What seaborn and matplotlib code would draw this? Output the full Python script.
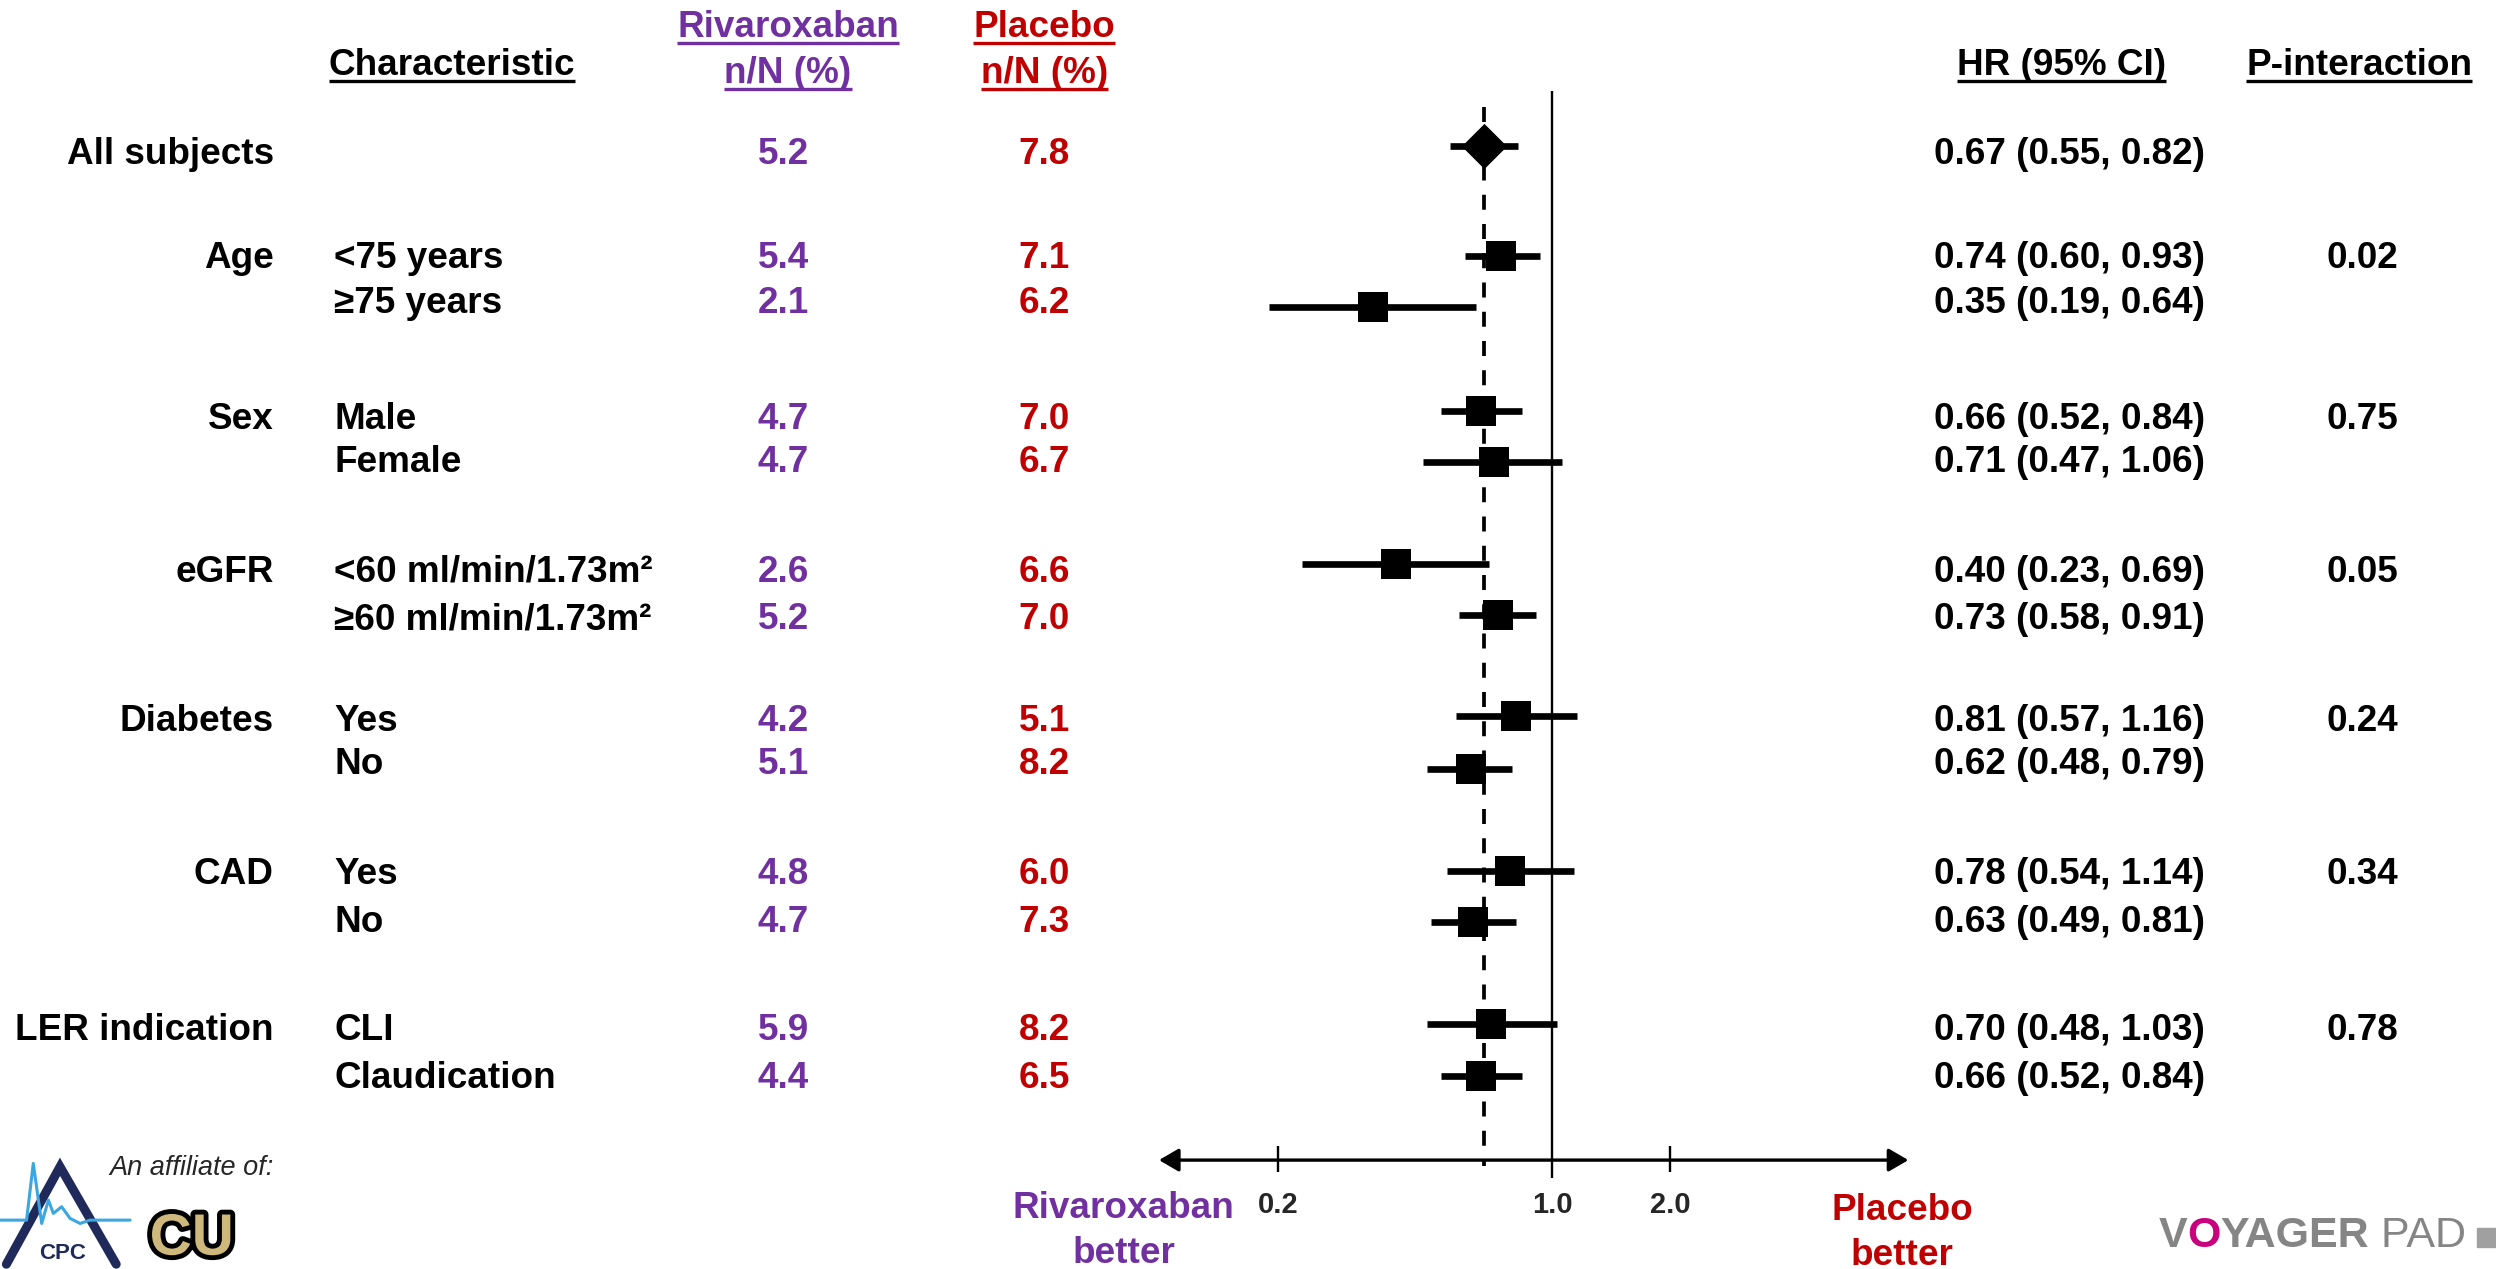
import numpy as np
import pandas as pd
import seaborn as sns
import matplotlib.pyplot as plt
import matplotlib.patheffects as pe

# values
groups = ['All subjects', 'Age', '', 'Sex', '', 'eGFR', '', 'Diabetes', '', 'CAD', '', 'LER indication', '']
subgroups = ['', '<75 years', '≥75 years', 'Male', 'Female',
             '<60 ml/min/1.73m²', '≥60 ml/min/1.73m²', 'Yes', 'No', 'Yes', 'No',
             'CLI', 'Claudication']
riva_pct = [5.2, 5.4, 2.1, 4.7, 4.7, 2.6, 5.2, 4.2, 5.1, 4.8, 4.7, 5.9, 4.4]
placebo_pct = [7.8, 7.1, 6.2, 7.0, 6.7, 6.6, 7.0, 5.1, 8.2, 6.0, 7.3, 8.2, 6.5]
hr = [0.67, 0.74, 0.35, 0.66, 0.71, 0.40, 0.73, 0.81, 0.62, 0.78, 0.63, 0.70, 0.66]
hr_lo = [0.55, 0.60, 0.19, 0.52, 0.47, 0.23, 0.58, 0.57, 0.48, 0.54, 0.49, 0.48, 0.52]
hr_hi = [0.82, 0.93, 0.64, 0.84, 1.06, 0.69, 0.91, 1.16, 0.79, 1.14, 0.81, 1.03, 0.84]
p_interaction = ['', '0.02', '', '0.75', '', '0.05', '', '0.24', '', '0.34', '', '0.78', '']
tick_vals = [0.2, 1.0, 2.0]
tick_labels = ['0.2', '1.0', '2.0']

# layout, in units of a 1568 x 797 slide
W, H = 1568, 797
text_y = [95, 160, 188, 261, 288, 357, 387, 451, 478, 547, 577, 645, 675]
mark_y = [92, 161, 193, 258, 290, 354, 386, 450, 483, 547, 579, 643, 676]
CAP = 8.3            # cap centre -> baseline
X_ONE, PX_LN = 975, 107   # where HR=1 sits, px per ln unit
AXIS_Y = 728.6
PURPLE, RED = '#7030A0', '#C00000'
FS = 26.6

sns.set_style('white')
plt.rcParams['font.family'] = ['Liberation Sans', 'DejaVu Sans']

fig = plt.figure(figsize=(24.96, 12.69), dpi=100)
deco = fig.add_axes([0, 0, 1, 1])
deco.set_xlim(0, W)
deco.set_ylim(H, 0)
deco.axis('off')

ax = fig.add_axes([0, 0, 1, 1])
ax.set_xscale('log')
ax.patch.set_alpha(0)

# forest plot
df = pd.DataFrame({'hr': hr, 'lo': hr_lo, 'hi': hr_hi, 'y': mark_y})
ax.hlines(df['y'], df['lo'], df['hi'], color='black', lw=4.8, zorder=3)
sns.scatterplot(data=df.iloc[1:], x='hr', y='y', marker='s', s=445,
                color='black', linewidth=0, legend=False, ax=ax, zorder=4)
sns.scatterplot(data=df.iloc[:1], x='hr', y='y', marker='D', s=530,
                color='black', linewidth=0, legend=False, ax=ax, zorder=4)
ax.vlines(hr[0], 67, 732, colors='black', lw=2.7, linestyles=(0, (4, 3.8)), zorder=2)
ax.vlines(1.0, 57, 740, colors='black', lw=1.7, zorder=2)
ax.vlines([v for v in tick_vals if v != 1.0], 720, 736, colors='black', lw=1.7)
ax.annotate('', xy=(0.0995, AXIS_Y), xytext=(8.1, AXIS_Y),
            arrowprops=dict(arrowstyle='<|-|>,head_length=0.6,head_width=0.35',
                            lw=2.4, color='black', shrinkA=0, shrinkB=0,
                            mutation_scale=20))
for v, lab in zip(tick_vals, tick_labels):
    ax.text(v, 762, lab, ha='center', va='baseline', fontsize=21, fontweight='bold')

ax.set_xlim(np.exp(-X_ONE / PX_LN), np.exp((W - X_ONE) / PX_LN))
ax.set_ylim(H, 0)
ax.axis('off')


def put(x, y, s, color='black', ha='center', size=FS, **kw):
    return deco.text(x, y + CAP, s, ha=ha, va='baseline', color=color,
                     fontsize=size, fontweight='bold', **kw)


# headers
headers = [
    put(284, 39, 'Characteristic'),
    put(495, 15, 'Rivaroxaban', PURPLE),
    put(495, 44, 'n/N (%)', PURPLE),
    put(656, 15, 'Placebo', RED),
    put(656, 44, 'n/N (%)', RED),
    put(1295, 39, 'HR (95% CI)'),
    put(1482, 39, 'P-interaction'),
]

# table rows
for i in range(len(hr)):
    y = text_y[i]
    if groups[i]:
        put(172, y, groups[i], ha='right')
    if subgroups[i]:
        put(210, y, subgroups[i], ha='left')
    put(492, y, f'{riva_pct[i]:.1f}', PURPLE)
    put(656, y, f'{placebo_pct[i]:.1f}', RED)
    put(1300, y, f'{hr[i]:.2f} ({hr_lo[i]:.2f}, {hr_hi[i]:.2f})')
    if p_interaction[i]:
        put(1484, y, p_interaction[i])

# favours labels
deco.text(706, 765, 'Rivaroxaban', ha='center', va='baseline', color=PURPLE, fontsize=FS, fontweight='bold')
deco.text(706, 793.5, 'better', ha='center', va='baseline', color=PURPLE, fontsize=FS, fontweight='bold')
deco.text(1195, 766, 'Placebo', ha='center', va='baseline', color=RED, fontsize=FS, fontweight='bold')
deco.text(1195, 794.5, 'better', ha='center', va='baseline', color=RED, fontsize=FS, fontweight='bold')

# logos (rough)
deco.plot([4, 37.7, 73], [794, 732.8, 794], color='#1F2A5A', lw=6.5, solid_joinstyle='miter')
ecg_x = [0, 16.7, 20.9, 26.2, 30.4, 33.5, 38.7, 44, 50.3, 56.5, 81.7]
ecg_y = [766.3, 766.3, 730.7, 768.4, 753.7, 762.1, 757.9, 765.2, 768.4, 766.3, 766.3]
deco.plot(ecg_x, ecg_y, color='#3BA7E0', lw=2.2)
deco.text(39, 791, 'CPC', ha='center', va='baseline', color='#1F2A5A', fontsize=16, fontweight='bold')
deco.text(69, 738, 'An affiliate of:', ha='left', va='baseline', fontsize=19.5, style='italic')
deco.text(94, 788, 'CU', ha='left', va='baseline', color='#CFB87C', fontsize=42,
          fontweight='bold', path_effects=[pe.withStroke(linewidth=7, foreground='black')])

GRAY = '#858585'
t = deco.text(1356, 783, 'V', ha='left', va='baseline', color=GRAY, fontsize=31, fontweight='bold')
for seg, col, wt in [('O', '#C8007E', 'bold'), ('YAGER', GRAY, 'bold'), (' PAD', GRAY, 'normal')]:
    t = deco.annotate(seg, xy=(1, 0), xycoords=t, ha='left', va='bottom',
                      color=col, fontsize=31, fontweight=wt)
deco.fill([1556, 1568, 1568, 1556], [771, 771, 783, 783], color='#A0A0A0')

# underline headers
fig.canvas.draw()
inv = deco.transData.inverted()
for h in headers:
    bb = h.get_window_extent()
    (x0, _), (x1, _) = inv.transform([[bb.x0, bb.y0], [bb.x1, bb.y0]])
    yb = h.get_position()[1] + 3.8
    deco.plot([x0, x1], [yb, yb], color=h.get_color(), lw=2.4, solid_capstyle='butt')

fig.savefig('out.png', dpi=100)
